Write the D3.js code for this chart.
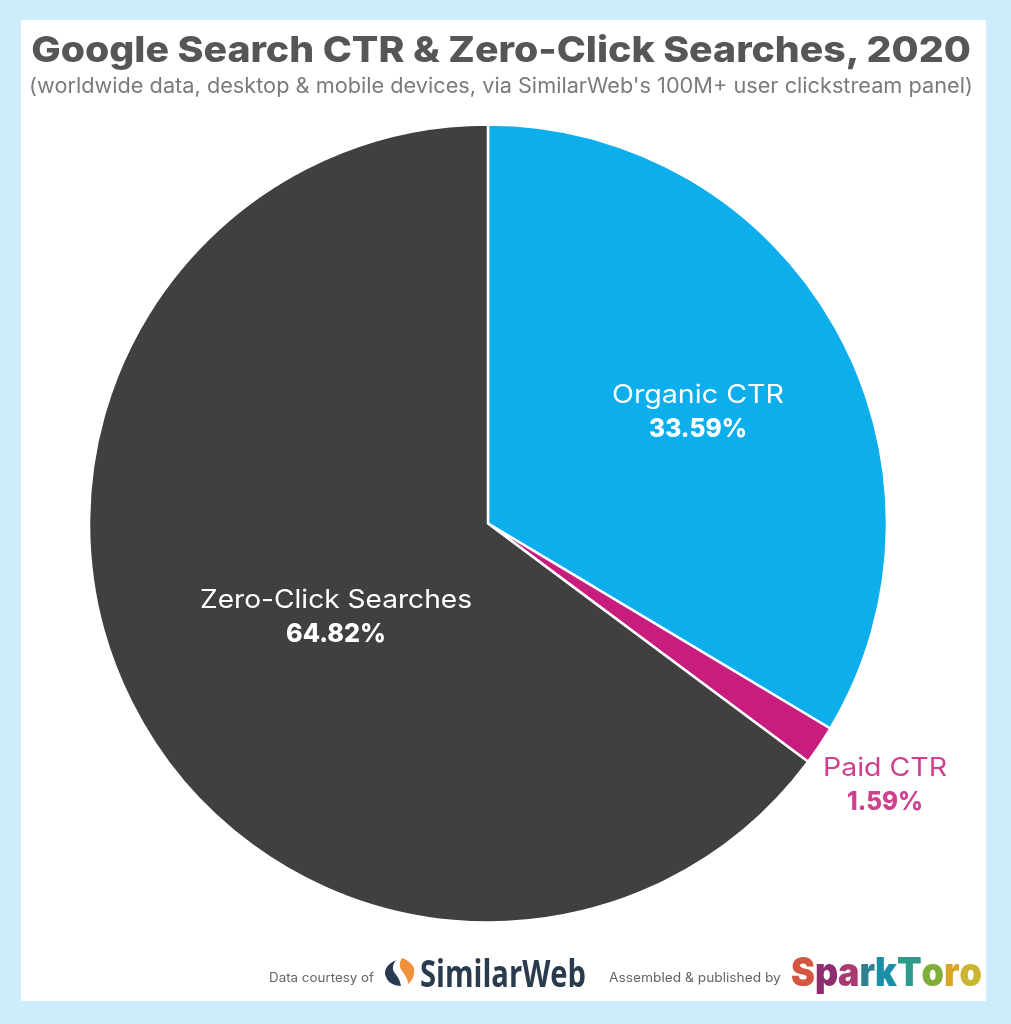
<!DOCTYPE html>
<html><head><meta charset="utf-8">
<script src="https://cdn.jsdelivr.net/npm/d3@7"></script>
<style>html,body{margin:0;padding:0;background:#cdecfc;overflow:hidden}svg{display:block}text{font-family:Inter,"Open Sans",sans-serif}</style>
</head><body><svg id="c" width="1011" height="1024"></svg>
<script>
const categories = ["Organic CTR", "Paid CTR", "Zero-Click Searches"];
const shares = [33.59, 1.59, 64.82];
const shareLabels = ["33.59%", "1.59%", "64.82%"];
const sliceColors = ["#0baeec", "#c81d7e", "#404040"];
const labelColors = ["#ffffff", "#cf3f8f", "#ffffff"];
const titleText = "Google Search CTR & Zero-Click Searches, 2020";
const subtitleText = "(worldwide data, desktop & mobile devices, via SimilarWeb's 100M+ user clickstream panel)";
const sparkLetters = ["S","p","a","r","k","T","o","r","o"];
const sparkColors = ["#d4553f","#8e2f6e","#a83a72","#2f7f8f","#1f8fa8","#2d9a8c","#7fae3a","#d9a528","#c9b52e"];

const W = 1011, H = 1024, cx = 488, cy = 523.5, R = 399;
const labelGeom = [
  {name:[698,403,172,25.5], val:[698,437,98,25.5]},
  {name:[885,776,124,25.5], val:[885,810,76,25.5]},
  {name:[336,608,272,25.5], val:[336,642,100,25.5]}
];
const svg = d3.select("#c");
const defs = svg.append("defs");
defs.append("filter").attr("id","soft").append("feGaussianBlur").attr("stdDeviation",0.55);
svg.append("rect").attr("width",W).attr("height",H).attr("fill","#cdecfc");
svg.append("rect").attr("x",21).attr("y",20).attr("width",965).attr("height",981).attr("fill","#fff");
const root = svg.append("g").attr("filter","url(#soft)");

function fitText(s,x,y,w,size,weight,fill,anchor="middle",family=null){
  const t = root.append("text").attr("text-anchor",anchor)
    .attr("font-size",size).attr("font-weight",weight).attr("fill",fill).text(s);
  if (family) t.style("font-family",family);
  return squeeze(t,x,y,w);
}
function squeeze(t,x,y,w){
  const len = t.node().getComputedTextLength();
  return t.attr("transform",`translate(${x},${y}) scale(${w/len},1)`);
}
fitText(titleText,501,62,940,36,800,"#565656");
fitText(subtitleText,501,93,944,21,400,"#7a7a7a");

const pie = d3.pie().sort(null).value(d=>d)(shares);
const arc = d3.arc().innerRadius(0).outerRadius(R);
root.append("g").attr("transform",`translate(${cx},${cy})`)
  .selectAll("path").data(pie).join("path")
  .attr("d",arc).attr("fill",(d,i)=>sliceColors[i])
  .attr("stroke","#fff").attr("stroke-width",2.5).attr("stroke-linejoin","round");

categories.forEach((c,i)=>{
  const g = labelGeom[i];
  fitText(c,g.name[0],g.name[1],g.name[2],g.name[3],400,labelColors[i]);
  fitText(shareLabels[i],g.val[0],g.val[1],g.val[2],g.val[3],800,labelColors[i]);
});

// footer
fitText("Data courtesy of",269,982,105,12.5,400,"#666","start");
// SimilarWeb swoosh mark
root.append("path").attr("d","M396 960 C387 964 383 971 386 977 C388 983 395 986 401 986 C400 980 398 977 394 972 C392 968 393 964 396 960Z").attr("fill","#2b3a4f");
root.append("path").attr("d","M402 958 C399 963 399 967 402 971 C405 975 408 979 408 984 C413 980 415 974 414 968 C412 964 408 960 402 958Z").attr("fill","#f0913a");
fitText("SimilarWeb",420,987,166,37,700,"#2c3a4e","start","'Open Sans',sans-serif");
fitText("Assembled & published by",609,982,172,12.5,400,"#666","start");

const spark = root.append("text").attr("font-size",40).attr("font-weight",900);
spark.selectAll("tspan").data(sparkLetters).join("tspan").attr("fill",(d,i)=>sparkColors[i]).text(d=>d);
squeeze(spark,791,986,186);
</script></body></html>
